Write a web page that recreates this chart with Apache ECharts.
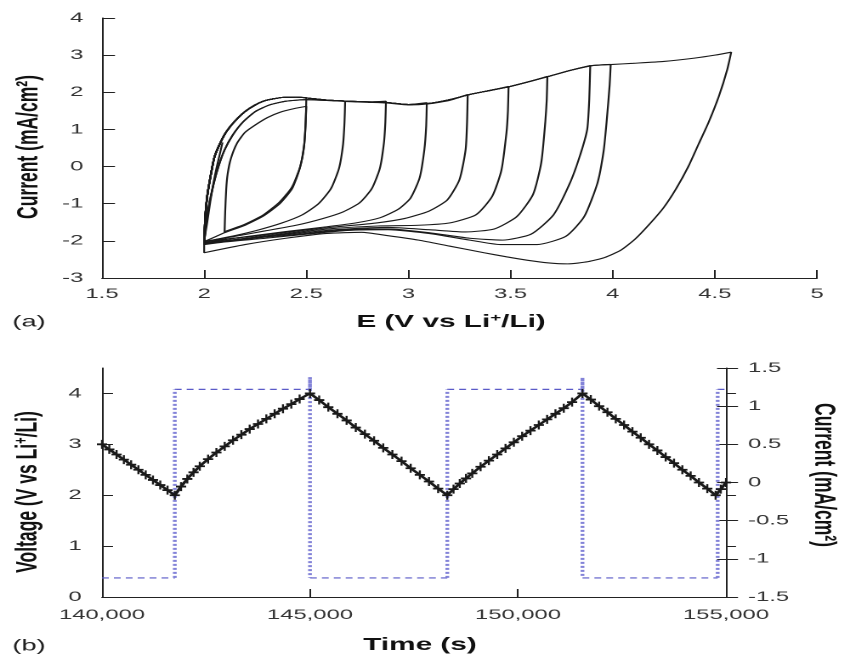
<!DOCTYPE html>
<html>
<head>
<meta charset="utf-8">
<script src="https://cdn.jsdelivr.net/npm/echarts@6/dist/echarts.min.js"></script>
<style>
  html, body { margin: 0; padding: 0; background: #fff; }
  #wrap { width: 842px; height: 662px; overflow: hidden; position: relative; background: #fff; }
  #chart { height: 662px; transform-origin: 0 0; }
</style>
</head>
<body>
<div id="wrap"><div id="chart"></div></div>
<script>
// ---------- (a) cyclic voltammetry data: [E (V), I (mA/cm2)] ----------
const cvXTicks = { min: 1.5, max: 5, interval: 0.5 };
const cvYTicks = { min: -3, max: 4, interval: 1 };

const scanStart = [[2.09,0.65],[2.075,0.3],[2.06,-0.05],[2.045,-0.45],[2.03,-0.95],[2.015,-1.5],[2.0,-2.0]];

const anodicA = [[2.0,-2.05],[2.005,-1.4],[2.015,-0.8],[2.03,-0.3],[2.05,0.25],[2.08,0.65],[2.11,0.95],[2.15,1.22],[2.2,1.48],[2.25,1.66],[2.3,1.78],[2.38,1.86],[2.45,1.87],[2.5,1.85],[2.6,1.79],[2.7,1.76],[2.8,1.74],[2.9,1.72],[3.0,1.67],[3.1,1.70],[3.2,1.80],[3.3,1.94],[3.4,2.05],[3.5,2.16],[3.6,2.30],[3.7,2.45],[3.8,2.60],[3.9,2.72],[4.0,2.75],[4.1,2.78],[4.25,2.83],[4.4,2.92],[4.5,3.0],[4.58,3.08]];
const anodicB = [[2.0,-2.1],[2.01,-1.5],[2.025,-1.0],[2.045,-0.5],[2.07,0.0],[2.1,0.45],[2.14,0.85],[2.19,1.2],[2.25,1.48],[2.32,1.66],[2.4,1.76],[2.5,1.80],[2.6,1.78],[2.7,1.75],[2.8,1.73],[2.9,1.71],[3.0,1.66],[3.1,1.69],[3.2,1.78],[3.3,1.92],[3.4,2.03],[3.5,2.14]];
const anodicInner = [[2.1,-1.78],[2.103,-1.2],[2.108,-0.6],[2.115,-0.2],[2.13,0.2],[2.16,0.62],[2.2,0.92],[2.25,1.12],[2.31,1.32],[2.37,1.46],[2.44,1.56]];

const cath25 = [[2.5,1.85],[2.497,1.2],[2.49,0.6],[2.47,0.0],[2.43,-0.55],[2.37,-0.95],[2.29,-1.3],[2.2,-1.55],[2.1,-1.75]];
const cath25b = [[2.5,1.62],[2.496,1.1],[2.488,0.5],[2.468,-0.05],[2.43,-0.6],[2.37,-1.0],[2.29,-1.33],[2.2,-1.58],[2.1,-1.78],[2.05,-1.9],[2.0,-2.02]];
const cath27 = [[2.69,1.76],[2.687,1.2],[2.68,0.6],[2.66,-0.05],[2.62,-0.6],[2.56,-1.0],[2.48,-1.3],[2.38,-1.52],[2.27,-1.7],[2.15,-1.86],[2.05,-1.97],[2.0,-2.03]];
const cath29 = [[2.89,1.76],[2.887,1.2],[2.88,0.64],[2.86,-0.05],[2.82,-0.6],[2.76,-0.98],[2.68,-1.22],[2.58,-1.4],[2.45,-1.58],[2.3,-1.73],[2.15,-1.88],[2.0,-2.04]];
const cath31 = [[3.09,1.72],[3.087,1.1],[3.078,0.46],[3.055,-0.3],[3.01,-0.85],[2.95,-1.15],[2.86,-1.38],[2.74,-1.52],[2.6,-1.62],[2.4,-1.75],[2.2,-1.89],[2.0,-2.05]];
const cath33 = [[3.29,1.94],[3.287,1.2],[3.28,0.46],[3.25,-0.35],[3.19,-0.9],[3.1,-1.2],[2.98,-1.4],[2.84,-1.52],[2.65,-1.62],[2.45,-1.74],[2.25,-1.87],[2.0,-2.04]];
const cath35 = [[3.49,2.16],[3.487,1.5],[3.48,0.92],[3.455,-0.1],[3.41,-0.8],[3.33,-1.3],[3.2,-1.52],[3.05,-1.58],[2.85,-1.6],[2.65,-1.66],[2.45,-1.77],[2.25,-1.9],[2.0,-2.06]];
const cath37 = [[3.68,2.43],[3.677,1.8],[3.67,1.2],[3.65,0.1],[3.61,-0.75],[3.53,-1.35],[3.42,-1.68],[3.28,-1.76],[3.1,-1.7],[2.9,-1.64],[2.7,-1.68],[2.5,-1.77],[2.3,-1.88],[2.1,-2.0],[2.0,-2.07]];
const cath39 = [[3.89,2.72],[3.885,1.8],[3.875,1.0],[3.84,0.3],[3.79,-0.45],[3.71,-1.3],[3.6,-1.82],[3.46,-1.98],[3.3,-1.93],[3.1,-1.78],[2.9,-1.68],[2.7,-1.7],[2.5,-1.8],[2.3,-1.9],[2.1,-2.01],[2.0,-2.08]];
const cath40 = [[3.99,2.75],[3.985,2.2],[3.97,1.2],[3.955,0.4],[3.925,-0.45],[3.86,-1.35],[3.77,-1.88],[3.63,-2.1],[3.45,-2.1],[3.3,-1.98],[3.1,-1.8],[2.9,-1.7],[2.7,-1.72],[2.5,-1.82],[2.3,-1.93],[2.1,-2.03],[2.0,-2.1]];
const cath46 = [[4.58,3.08],[4.56,2.6],[4.52,1.9],[4.47,1.2],[4.42,0.6],[4.37,0.0],[4.31,-0.6],[4.25,-1.1],[4.18,-1.55],[4.11,-1.95],[4.04,-2.25],[3.96,-2.45],[3.88,-2.56],[3.78,-2.62],[3.68,-2.59],[3.58,-2.52],[3.48,-2.43],[3.37,-2.32],[3.2,-2.14],[3.05,-1.98],[2.9,-1.86],[2.77,-1.77],[2.6,-1.8],[2.4,-1.93],[2.2,-2.1],[2.0,-2.32]];

// ---------- (b) galvanostatic data ----------
const timeTicks = { min: 140000, max: 155000, interval: 5000 };
const voltageTicks = [0, 1, 2, 3, 4];
const currentTicks = { min: -1.5, max: 1.5, interval: 0.5 };

const voltageTime = [
140000,140175,140350,140525,140700,140875,141050,141225,141400,141575,141750,
141900,142050,142200,142350,142550,142750,142950,143150,143350,143550,143750,143950,144150,144350,144550,144750,145000,
145220,145440,145660,145880,146100,146320,146540,146760,146980,147200,147420,147640,147860,148080,148300,
148450,148600,148750,148900,149100,149300,149500,149700,149900,150100,150300,150500,150700,150900,151100,151300,151550,
151750,151950,152150,152350,152550,152750,152950,153150,153350,153550,153750,153950,154150,154350,154550,154750,
154875,155000];
const voltageValue = [
3.00,2.90,2.80,2.70,2.60,2.50,2.40,2.30,2.20,2.10,2.00,
2.17,2.32,2.45,2.57,2.71,2.84,2.96,3.08,3.19,3.30,3.40,3.50,3.60,3.70,3.79,3.89,4.00,
3.87,3.73,3.60,3.47,3.33,3.20,3.07,2.93,2.80,2.67,2.53,2.40,2.27,2.13,2.00,
2.12,2.23,2.33,2.43,2.56,2.68,2.80,2.92,3.04,3.16,3.27,3.38,3.49,3.60,3.71,3.83,4.00,
3.88,3.75,3.63,3.50,3.38,3.25,3.13,3.00,2.88,2.75,2.63,2.50,2.38,2.25,2.13,2.00,
2.12,2.25];

const currentTime  = [140000,141750,141750,145000,145000,145000,148300,148300,151550,151550,151550,154800,154800,155000];
const currentValue = [-1.25,-1.25,1.22,1.22,1.38,-1.25,-1.25,1.22,1.22,1.37,-1.25,-1.25,1.22,1.22];

// ---------- build ----------
const S = 1.7;               // horizontal stretch of the reference picture
const W = 842 / S;
const dom = document.getElementById('chart');
dom.style.width = W + 'px';
dom.style.transform = 'scaleX(' + S + ')';

function buildLoop(anodic, cathodic) {
  const vE = cathodic[0][0];
  const pts = anodic.filter(p => p[0] < vE).concat(cathodic);
  const f = pts[0], l = pts[pts.length - 1];
  if (l[0] === f[0] && l[1] !== f[1]) pts.push(f.slice());
  return pts;
}
const loops = [
  scanStart,
  buildLoop(anodicA, cath25),
  buildLoop(anodicInner, cath25b),
  buildLoop(anodicB, cath27),
  buildLoop(anodicA, cath29),
  buildLoop(anodicA, cath31),
  buildLoop(anodicB, cath33),
  buildLoop(anodicA, cath35),
  buildLoop(anodicA, cath37),
  buildLoop(anodicA, cath39),
  buildLoop(anodicA, cath40),
  buildLoop(anodicA, cath46)
];

const horiz = [], vert = [];
for (let i = 0; i < currentTime.length - 1; i++) {
  const a = [currentTime[i], currentValue[i]], b = [currentTime[i + 1], currentValue[i + 1]];
  const target = a[0] === b[0] ? vert : horiz;
  target.push(a, b, [b[0], null]);
}

const FONT = '"Liberation Sans", Arial, Helvetica, sans-serif';
const tickLabel = { color: '#333', fontSize: 14, fontFamily: FONT };
const axisLine = { show: true, onZero: false, lineStyle: { color: '#222', width: 1 } };

const chart = echarts.init(dom, null, { renderer: 'canvas', devicePixelRatio: 2, width: W, height: 662 });

const option = {
  animation: false,
  backgroundColor: '#fff',
  grid: [
    { left: 102 / S, top: 18, width: (817 - 102) / S, height: 260 },
    { left: 102 / S, top: 368, width: (726 - 102) / S, height: 229 }
  ],
  xAxis: [
    { type: 'value', gridIndex: 0, min: cvXTicks.min, max: cvXTicks.max, interval: cvXTicks.interval,
      axisLine, splitLine: { show: false },
      axisTick: { inside: true, length: 8, lineStyle: { color: '#222' } },
      axisLabel: Object.assign({ margin: 9 }, tickLabel) },
    { type: 'value', gridIndex: 1, min: timeTicks.min, max: timeTicks.max, interval: timeTicks.interval,
      axisLine, splitLine: { show: false },
      axisTick: { inside: true, length: 8, lineStyle: { color: '#222' } },
      axisLabel: Object.assign({ margin: 11, formatter: v => v.toLocaleString('en-US') }, tickLabel) }
  ],
  yAxis: [
    { type: 'value', gridIndex: 0, min: cvYTicks.min, max: cvYTicks.max, interval: cvYTicks.interval,
      axisLine, splitLine: { show: false },
      axisTick: { inside: true, length: 13 / S, lineStyle: { color: '#222' } },
      axisLabel: Object.assign({ margin: 11 }, tickLabel) },
    { type: 'value', gridIndex: 1, min: 0, max: 4.5, interval: 1,
      axisLine, splitLine: { show: false },
      axisTick: { inside: true, length: 11 / S, customValues: voltageTicks, lineStyle: { color: '#222' } },
      axisLabel: Object.assign({ margin: 12, customValues: voltageTicks }, tickLabel) },
    { type: 'value', gridIndex: 1, position: 'right', min: currentTicks.min, max: currentTicks.max, interval: currentTicks.interval,
      axisLine, splitLine: { show: false },
      axisTick: { inside: true, length: 9 / S, lineStyle: { color: '#222' } },
      axisLabel: Object.assign({ margin: 13 }, tickLabel) },
    { type: 'value', gridIndex: 1, min: 0, max: 4.5, interval: 1,
      axisLine: { show: false }, splitLine: { show: false }, axisLabel: { show: false },
      axisTick: { inside: false, length: 10 / S, customValues: voltageTicks, lineStyle: { color: '#222' } } },
    { type: 'value', gridIndex: 1, position: 'right', min: currentTicks.min, max: currentTicks.max, interval: currentTicks.interval,
      axisLine: { show: false }, splitLine: { show: false }, axisLabel: { show: false },
      axisTick: { inside: false, length: 12 / S, lineStyle: { color: '#222' } } }
  ],
  series: [
    ...loops.map((pts, i) => ({
      name: 'cv' + i, type: 'line', xAxisIndex: 0, yAxisIndex: 0, data: pts,
      showSymbol: false, symbol: 'none', smooth: 0.2, silent: true,
      lineStyle: { color: '#1a1a1a', width: 1.1 }
    })),
    { name: 'current-h', type: 'line', xAxisIndex: 1, yAxisIndex: 2, data: horiz, showSymbol: false, symbol: 'none',
      connectNulls: false, silent: true, lineStyle: { color: '#5a5ac8', width: 1.2, type: [4, 3] }, z: 1 },
    { name: 'current-v', type: 'line', xAxisIndex: 1, yAxisIndex: 2, data: vert, showSymbol: false, symbol: 'none',
      connectNulls: false, silent: true, lineStyle: { color: '#8282d8', width: 2.2, type: [2, 2] }, z: 1 },
    { name: 'voltage', type: 'line', xAxisIndex: 1, yAxisIndex: 1,
      data: voltageTime.map((t, i) => [t, voltageValue[i]]),
      symbol: 'path://M4,0H6V4H10V6H6V10H4V6H0V4H4Z', symbolSize: [6, 9], showSymbol: true, showAllSymbol: true,
      itemStyle: { color: '#1a1a1a' }, lineStyle: { color: '#1a1a1a', width: 2 }, silent: true, z: 3 }
  ],
  graphic: [
    { type: 'text', x: 29 / S, y: 322, style: { text: '(a)', font: '16px ' + FONT, fill: '#222', align: 'center', verticalAlign: 'middle' } },
    { type: 'text', x: 451 / S, y: 322, style: { text: 'E (V vs Li{sup|+}/Li)', font: 'bold 17.5px ' + FONT, fill: '#111', align: 'center', verticalAlign: 'middle',
        rich: { sup: { fontSize: 11, fontWeight: 'bold', fontFamily: FONT, verticalAlign: 'top', fill: '#111' } } } },
    { type: 'text', x: 29 / S, y: 646, style: { text: '(b)', font: '16px ' + FONT, fill: '#222', align: 'center', verticalAlign: 'middle' } },
    { type: 'text', x: 420 / S, y: 645, style: { text: 'Time (s)', font: 'bold 17.5px ' + FONT, fill: '#111', align: 'center', verticalAlign: 'middle' } },
    { type: 'text', x: 29 / S, y: 147, rotation: Math.PI / 2, style: { text: 'Current (mA/cm²)', font: 'bold 17.5px ' + FONT, fill: '#111', align: 'center', verticalAlign: 'middle' } },
    { type: 'text', x: 28 / S, y: 492, rotation: Math.PI / 2, style: { text: 'Voltage (V vs Li{sup|+}/Li)', font: 'bold 17.5px ' + FONT, fill: '#111', align: 'center', verticalAlign: 'middle',
        rich: { sup: { fontSize: 11, fontWeight: 'bold', fontFamily: FONT, verticalAlign: 'top', fill: '#111' } } } },
    { type: 'text', x: 823 / S, y: 475, rotation: -Math.PI / 2, style: { text: 'Current (mA/cm²)', font: 'bold 17.5px ' + FONT, fill: '#111', align: 'center', verticalAlign: 'middle' } }
  ]
};
chart.setOption(option);
</script>
</body>
</html>
